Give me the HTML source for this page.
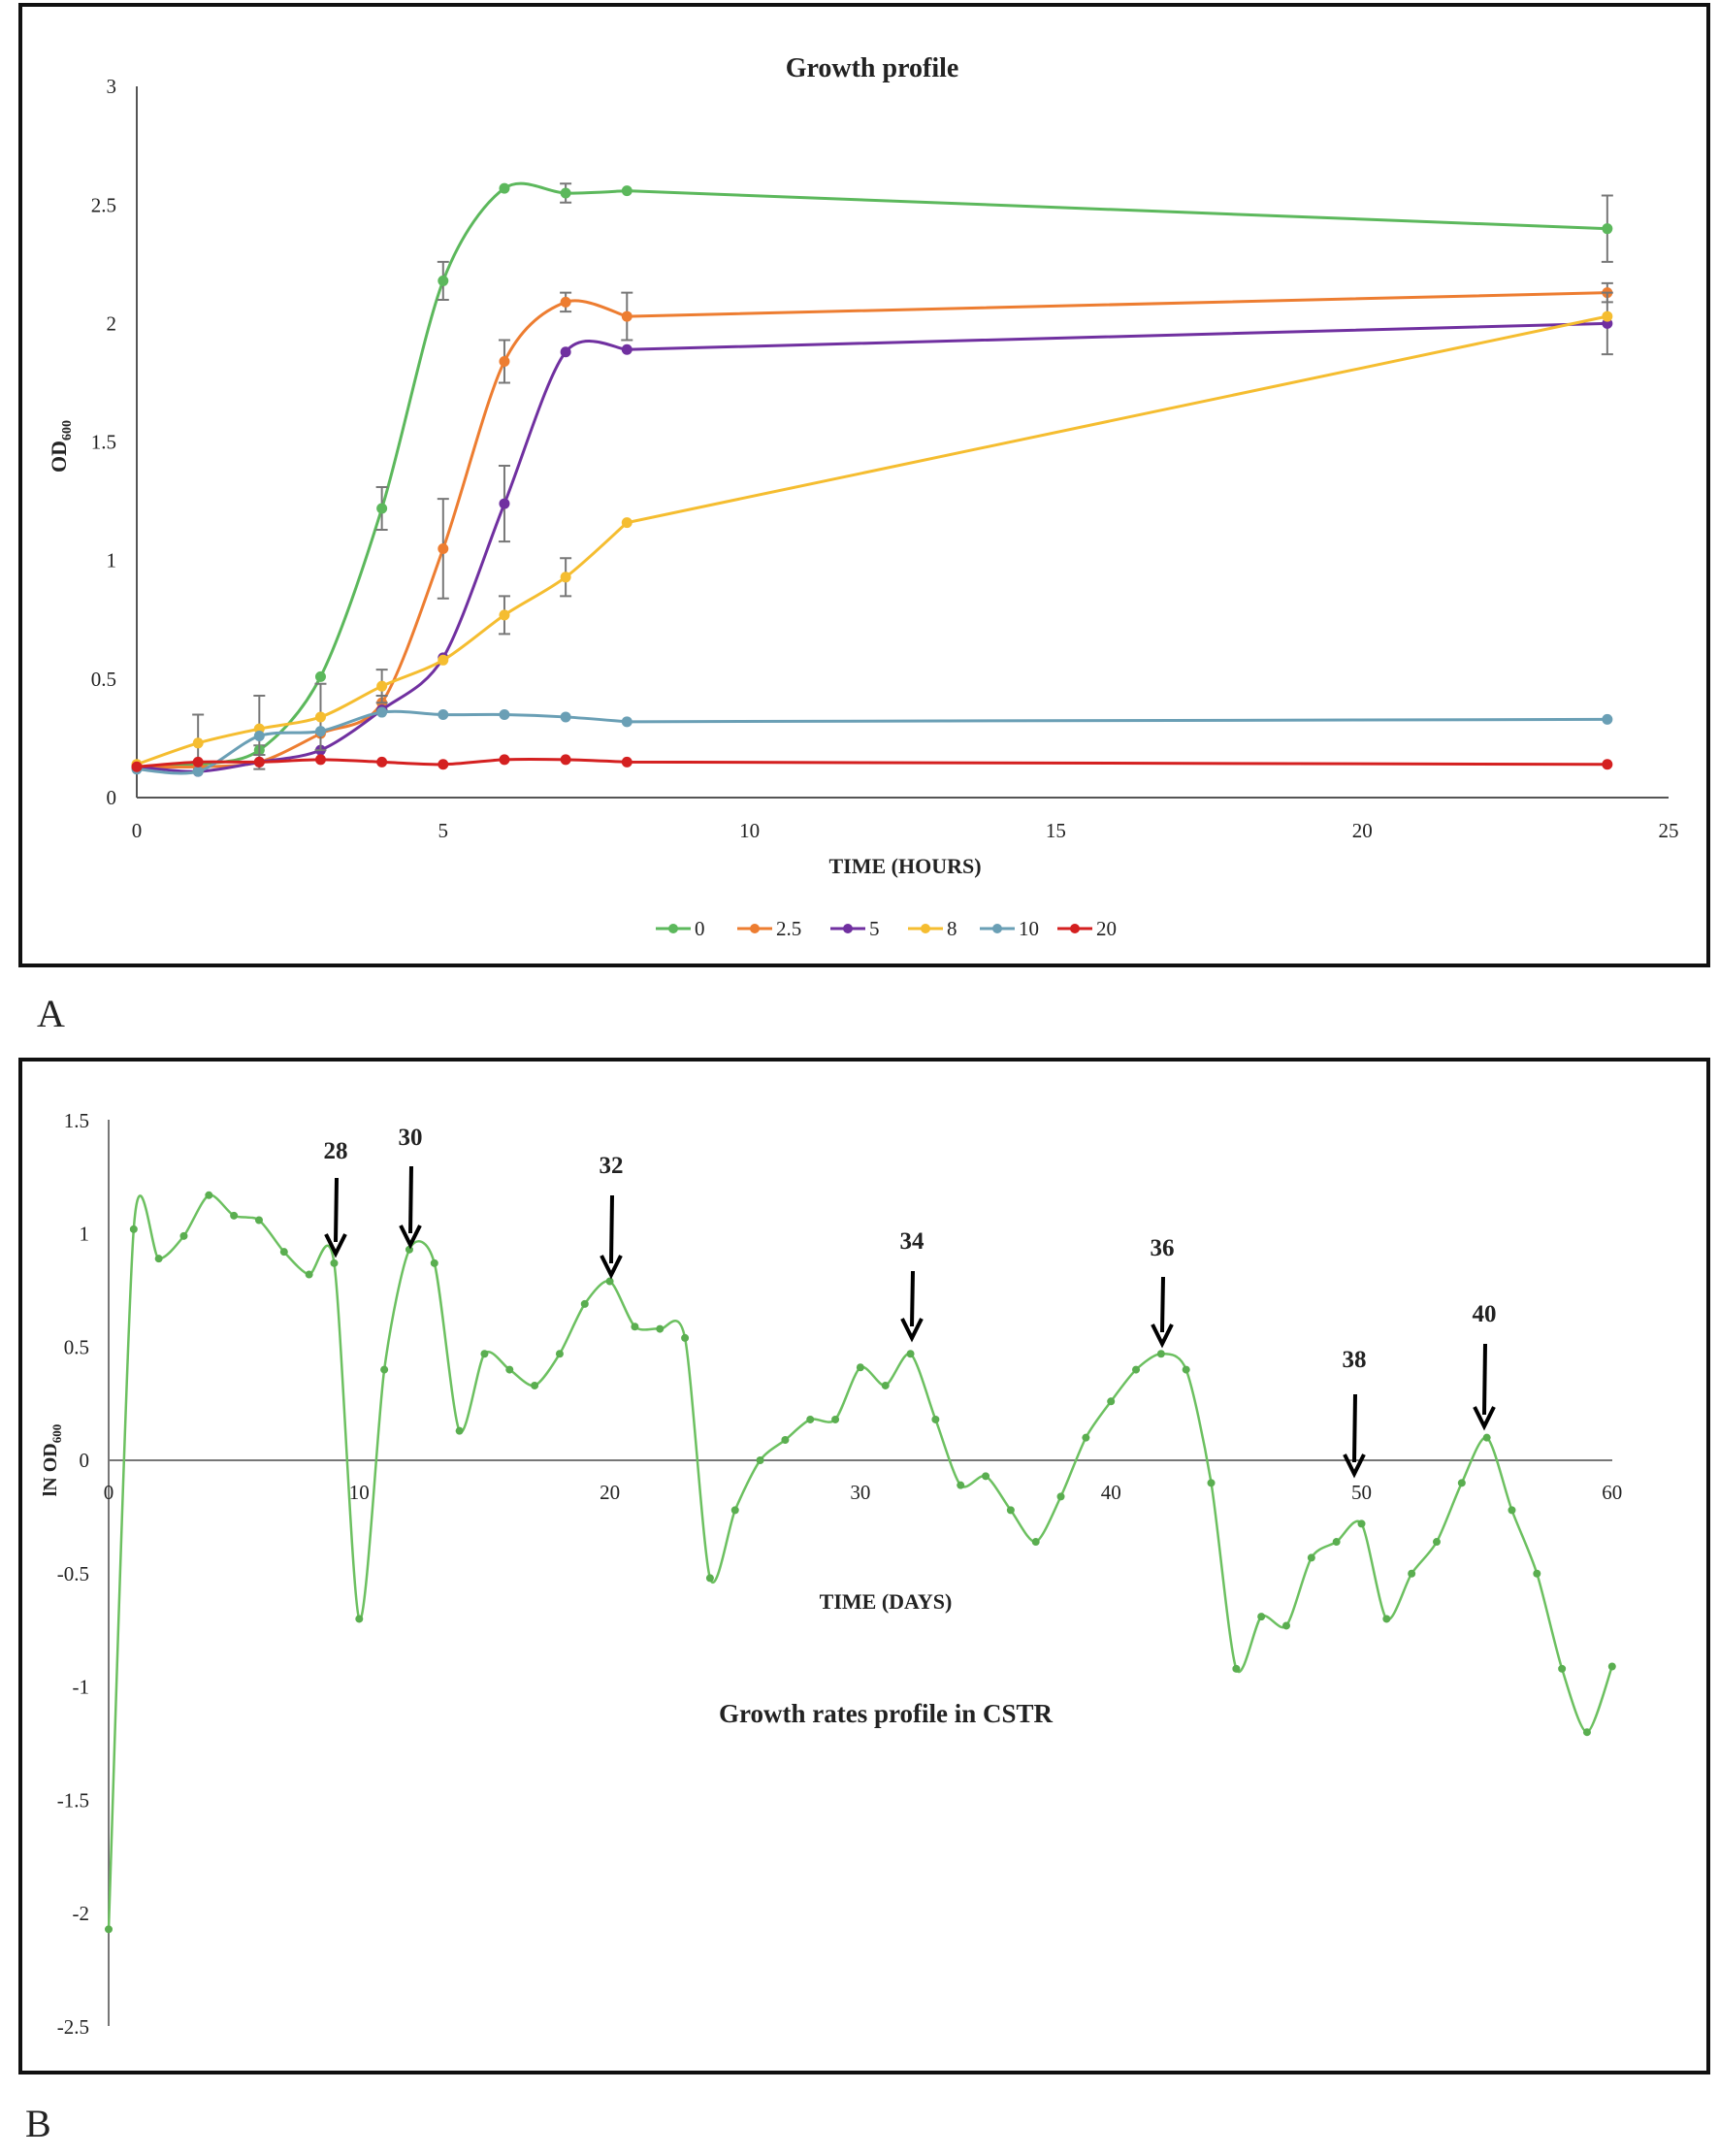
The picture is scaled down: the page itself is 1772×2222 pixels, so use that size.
<!DOCTYPE html>
<html><head><meta charset="utf-8"><style>
html,body{margin:0;padding:0;background:#fff;}
svg{display:block;}
text{font-family:"Liberation Serif",serif;fill:#222;}
</style></head><body>
<svg id="s" width="1772" height="2222" viewBox="0 0 1772 2222" xmlns="http://www.w3.org/2000/svg">
<rect x="21" y="5" width="1740" height="990" fill="none" stroke="#111" stroke-width="4"/>
<rect x="21" y="1092" width="1740" height="1044" fill="none" stroke="#111" stroke-width="4"/>
<text x="899" y="79" font-size="28" font-weight="bold" text-anchor="middle">Growth profile</text>
<text x="38" y="1058" font-size="40">A</text>
<text x="26" y="2202" font-size="40">B</text>
<text x="933" y="900" font-size="22" font-weight="bold" text-anchor="middle">TIME (HOURS)</text>
<text transform="translate(68,460) rotate(-90)" font-size="22" font-weight="bold" text-anchor="middle">OD<tspan font-size="14" dy="5">600</tspan></text>
<text x="913" y="1658" font-size="22" font-weight="bold" text-anchor="middle">TIME (DAYS)</text>
<text x="913" y="1775" font-size="27" font-weight="bold" text-anchor="middle">Growth rates profile in CSTR</text>
<text transform="translate(58,1505) rotate(-90)" font-size="20" font-weight="bold" text-anchor="middle">lN OD<tspan font-size="13" dy="5">600</tspan></text>
<g id="g"></g>
</svg>
<script>
var NS="http://www.w3.org/2000/svg",g=document.getElementById('g');
function el(t,a,txt){var e=document.createElementNS(NS,t);for(var k in a)e.setAttribute(k,a[k]);if(txt!=null)e.textContent=txt;g.appendChild(e);return e;}
function smooth(p,ten){ten=ten||0.5;var d="M"+p[0][0]+","+p[0][1];for(var i=0;i<p.length-1;i++){var p0=p[i-1]||p[i],p1=p[i],p2=p[i+1],p3=p[i+2]||p2;var t=ten/3;
d+=" C"+(p1[0]+(p2[0]-p0[0])*t)+","+(p1[1]+(p2[1]-p0[1])*t)+" "+(p2[0]-(p3[0]-p1[0])*t)+","+(p2[1]-(p3[1]-p1[1])*t)+" "+p2[0]+","+p2[1];}return d;}
// Chart A
var ax=function(x){return 141+x*63.16},ay=function(y){return 822-y*244.3};
el('line',{x1:141,y1:89,x2:141,y2:822,stroke:'#555','stroke-width':2});
el('line',{x1:141,y1:822,x2:1720,y2:822,stroke:'#555','stroke-width':2});
for(var i=0;i<=6;i++){var v=i*0.5;el('text',{x:120,y:ay(v)+7,'font-size':21,'text-anchor':'end'},String(v));}
for(var i=0;i<=5;i++){el('text',{x:ax(i*5),y:863,'font-size':21,'text-anchor':'middle'},String(i*5));}
var X=[0,1,2,3,4,5,6,7,8,24];
var S=[
['#5cb85c',[.13,.14,.2,.51,1.22,2.18,2.57,2.55,2.56,2.40],[0,0,.02,0,.09,.08,0,.04,0,.14],'0'],
['#ed7d31',[.13,.13,.15,.27,.4,1.05,1.84,2.09,2.03,2.13],[0,0,.03,0,.03,.21,.09,.04,.1,.04],'2.5'],
['#7030a0',[.13,.11,.15,.2,.37,.59,1.24,1.88,1.89,2.0],[0,0,0,0,0,0,.16,0,0,.13],'5'],
['#f5bd30',[.14,.23,.29,.34,.47,.58,.77,.93,1.16,2.03],[0,.12,.14,.14,.07,0,.08,.08,0,0],'8'],
['#6a9fb5',[.12,.11,.26,.28,.36,.35,.35,.34,.32,.33],[0,0,0,0,0,0,0,0,0,0],'10'],
['#d42020',[.13,.15,.15,.16,.15,.14,.16,.16,.15,.14],[0,0,0,0,0,0,0,0,0,0],'20']];
S.forEach(function(s){var pts=X.map(function(x,i){return[ax(x),ay(s[1][i])]});
el('path',{d:smooth(pts.slice(0,9),0.45)+" L"+pts[9][0]+","+pts[9][1],fill:'none',stroke:s[0],'stroke-width':3});
pts.forEach(function(p,i){var e=s[2][i];if(e>0){var y1=ay(s[1][i]+e),y2=ay(s[1][i]-e);el('path',{d:"M"+p[0]+","+y1+"V"+y2+"M"+(p[0]-6)+","+y1+"h12M"+(p[0]-6)+","+y2+"h12",stroke:'#777','stroke-width':2,fill:'none'});}
el('circle',{cx:p[0],cy:p[1],r:5.5,fill:s[0]});});});
var lxs=[[676,'0'],[760,'2.5'],[856,'5'],[936,'8'],[1010,'10'],[1090,'20']];
S.forEach(function(s,i){var x=lxs[i][0];el('line',{x1:x,y1:957,x2:x+36,y2:957,stroke:s[0],'stroke-width':3});el('circle',{cx:x+18,cy:957,r:5,fill:s[0]});el('text',{x:x+40,y:964,'font-size':21},s[3]);});
// Chart B
var bx=function(x){return 112+x*25.83},by=function(y){return 1505-y*233.5};
el('line',{x1:112,y1:1154,x2:112,y2:2088,stroke:'#777','stroke-width':2});
el('line',{x1:112,y1:1505,x2:1662,y2:1505,stroke:'#777','stroke-width':2});
for(var i=0;i<=8;i++){var v=1.5-i*0.5;el('text',{x:92,y:by(v)+7,'font-size':21,'text-anchor':'end'},String(v));}
for(var i=0;i<=6;i++){el('text',{x:bx(i*10),y:1545,'font-size':21,'text-anchor':'middle'},String(i*10));}
var B=[-2.07,1.02,.89,.99,1.17,1.08,1.06,.92,.82,.87,-.7,.4,.93,.87,.13,.47,.40,.33,.47,.69,.79,.59,.58,.54,-.52,-.22,0,.09,.18,.18,.41,.33,.47,.18,-.11,-.07,-.22,-.36,-.16,.1,.26,.4,.47,.4,-.1,-.92,-.69,-.73,-.43,-.36,-.28,-.7,-.5,-.36,-.1,.1,-.22,-.5,-.92,-1.2,-.91];
var bp=B.map(function(v,i){return[bx(i),by(v)]});
el('path',{d:smooth(bp,0.4),fill:'none',stroke:'#6cc060','stroke-width':2.5});
bp.forEach(function(p){el('circle',{cx:p[0],cy:p[1],r:4,fill:'#5aae50'});});
var A=[[346,1194,1214,1292,'28'],[423,1180,1202,1283,'30'],[630,1209,1232,1314,'32'],[940,1287,1310,1379,'34'],[1198,1294,1316,1385,'36'],[1396,1409,1437,1519,'38'],[1530,1362,1385,1470,'40']];
A.forEach(function(a){el('text',{x:a[0],y:a[1],'font-size':25,'font-weight':'bold','text-anchor':'middle'},a[4]);
el('line',{x1:a[0]+1,y1:a[2],x2:a[0],y2:a[3]-12,stroke:'#000','stroke-width':4});
el('path',{d:"M"+(a[0]-10)+","+(a[3]-20)+" L"+a[0]+","+a[3]+" L"+(a[0]+10)+","+(a[3]-20),fill:'none',stroke:'#000','stroke-width':4});});
</script>
</body></html>
